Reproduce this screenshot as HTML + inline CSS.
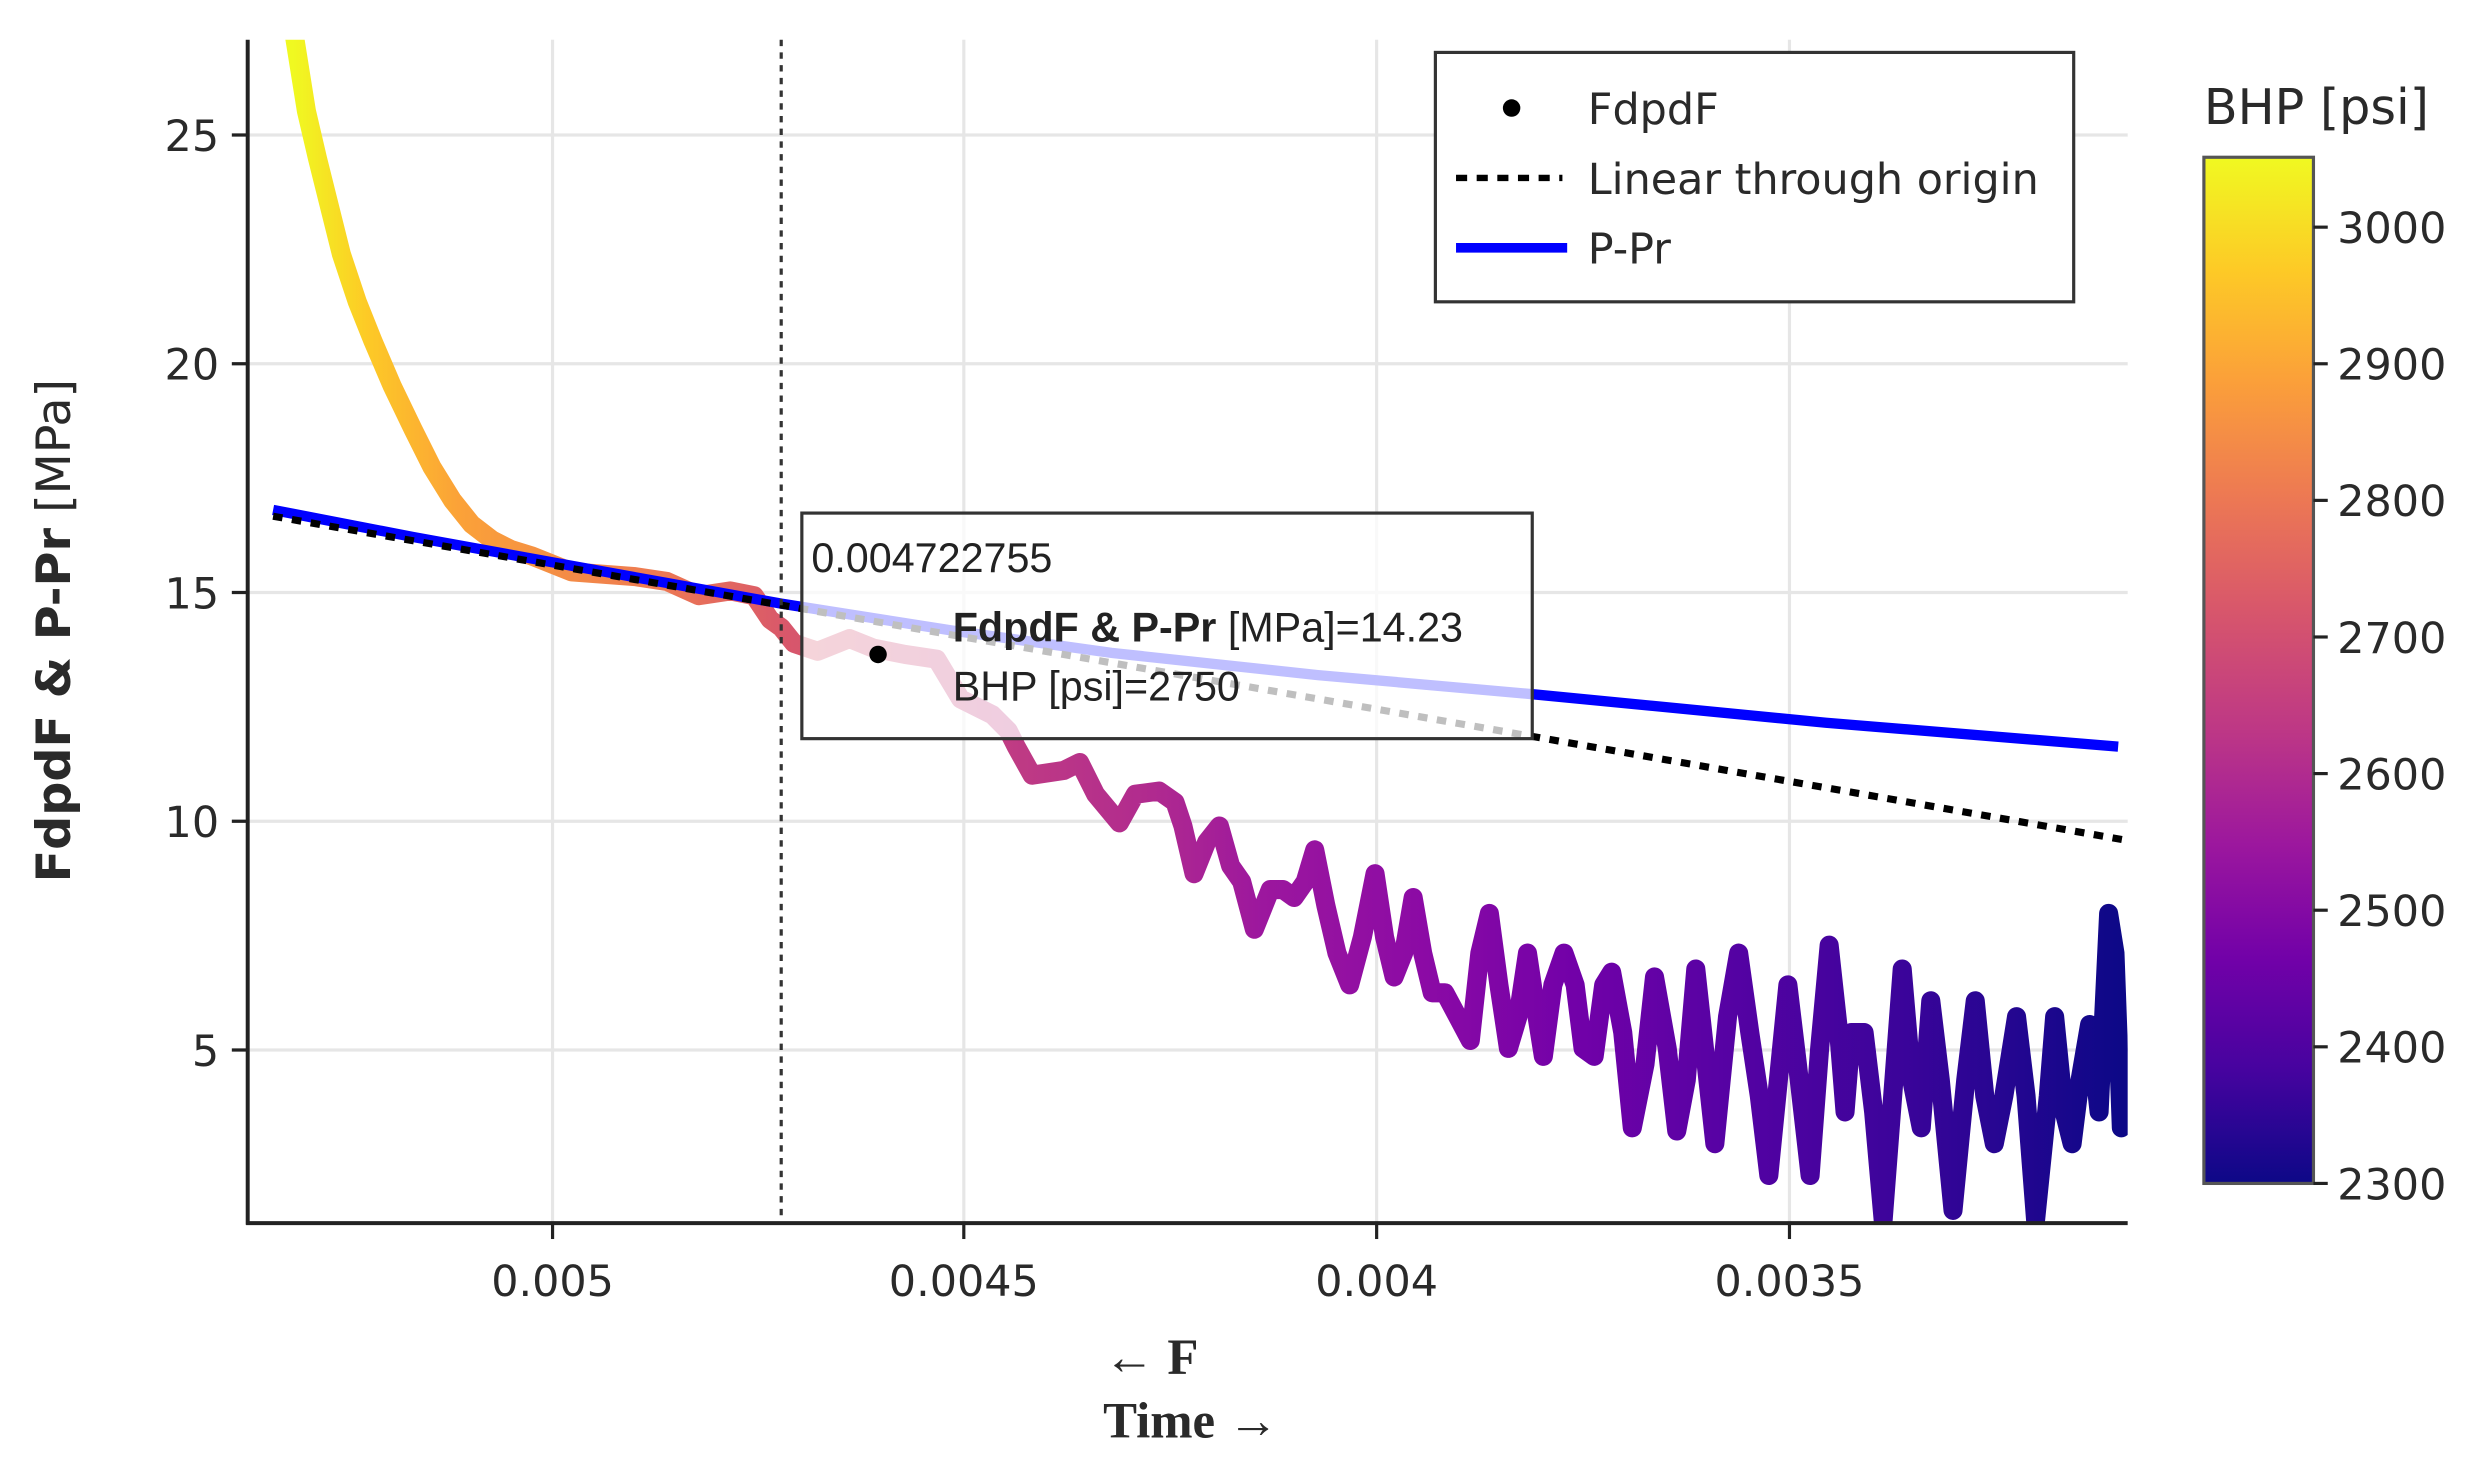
<!DOCTYPE html>
<html><head><meta charset="utf-8"><style>html,body{margin:0;padding:0;background:#fff}svg{display:block}</style></head>
<body>
<svg width="2477" height="1463" viewBox="0 0 1560 921" preserveAspectRatio="none" xmlns="http://www.w3.org/2000/svg">
<defs>
<linearGradient id="cg" gradientUnits="userSpaceOnUse" x1="185" y1="0" x2="1336" y2="0">
<stop offset="0" stop-color="#f0f921"/>
<stop offset="0.04" stop-color="#fdca26"/>
<stop offset="0.09" stop-color="#fba238"/>
<stop offset="0.2" stop-color="#ed7953"/>
<stop offset="0.27" stop-color="#d8576b"/>
<stop offset="0.39" stop-color="#c03c83"/>
<stop offset="0.47" stop-color="#b02a8f"/>
<stop offset="0.53" stop-color="#9c179e"/>
<stop offset="0.62" stop-color="#8b0aa5"/>
<stop offset="0.7" stop-color="#7201a8"/>
<stop offset="0.79" stop-color="#5402a3"/>
<stop offset="0.88" stop-color="#3b049a"/>
<stop offset="1" stop-color="#0d0887"/>
</linearGradient>
<linearGradient id="cb" x1="0" y1="1" x2="0" y2="0">
<stop offset="0" stop-color="#0d0887"/>
<stop offset="0.11" stop-color="#46039f"/>
<stop offset="0.22" stop-color="#7201a8"/>
<stop offset="0.33" stop-color="#9c179e"/>
<stop offset="0.44" stop-color="#bd3786"/>
<stop offset="0.56" stop-color="#d8576b"/>
<stop offset="0.67" stop-color="#ed7953"/>
<stop offset="0.78" stop-color="#fb9f3a"/>
<stop offset="0.89" stop-color="#fdca26"/>
<stop offset="1" stop-color="#f0f921"/>
</linearGradient>
<clipPath id="pc"><rect x="156" y="25" width="1184" height="745"/></clipPath>
</defs>
<g stroke="#e6e6e6" stroke-width="2">
<line x1="156" y1="85" x2="1340" y2="85"/><line x1="156" y1="229" x2="1340" y2="229"/>
<line x1="156" y1="373" x2="1340" y2="373"/><line x1="156" y1="517" x2="1340" y2="517"/>
<line x1="156" y1="661" x2="1340" y2="661"/>
<line x1="348" y1="25" x2="348" y2="770"/><line x1="607" y1="25" x2="607" y2="770"/>
<line x1="867" y1="25" x2="867" y2="770"/><line x1="1127" y1="25" x2="1127" y2="770"/>
</g>
<g clip-path="url(#pc)">
<polyline fill="none" stroke="url(#cg)" stroke-width="12" stroke-linejoin="round" stroke-linecap="round" points="185,20 193,70 200,100 208,132 215,160 225,190 235,215 247,243 260,270 272,294 285,315 297,330 310,340 322,346 335,350 360,360 400,363 420,366 440,375 460,372 475,375 485,390 492,395 500,405 515,410 535,402 550,408 570,412 590,415 605,440 625,450 635,460 640,470 650,488 670,485 680,480 690,500 705,518 715,500 730,498 740,505 745,520 752,550 760,530 768,520 775,545 782,555 790,585 800,560 808,560 815,565 822,555 828,535 835,570 842,600 850,620 858,590 866,550 872,590 878,615 884,600 890,565 896,600 902,625 910,625 918,640 926,655 932,600 938,575 944,620 950,660 956,640 962,600 968,640 972,665 978,620 985,600 992,620 997,660 1004,665 1010,620 1015,612 1022,650 1028,710 1036,670 1042,615 1050,660 1056,712 1062,680 1068,610 1074,665 1080,720 1088,640 1095,600 1102,650 1108,690 1114,740 1120,680 1126,620 1132,670 1140,740 1146,660 1152,595 1158,650 1162,700 1166,650 1174,650 1180,700 1186,768 1192,690 1198,610 1204,680 1210,710 1216,630 1222,680 1230,762 1238,680 1244,630 1250,690 1256,720 1262,690 1270,640 1276,690 1282,768 1290,690 1294,640 1300,700 1305,720 1310,680 1316,645 1322,700 1328,575 1332,600 1336,710"/>
<polyline fill="none" stroke="#0000ff" stroke-width="6.5" points="172,321 260,338 348,354 420,367 492,380 600,397 700,411 830,425 965,437 1150,455 1334,470"/>
<line x1="172" y1="325" x2="1345" y2="530" stroke="#000" stroke-width="4.5" stroke-dasharray="6,6"/>
</g>
<line x1="492" y1="25" x2="492" y2="770" stroke="#333" stroke-width="2" stroke-dasharray="4,4"/>
<line x1="156" y1="25" x2="156" y2="771" stroke="#222" stroke-width="2.5"/>
<line x1="155" y1="770" x2="1340" y2="770" stroke="#222" stroke-width="2.5"/>
<g stroke="#222" stroke-width="2">
<line x1="146" y1="85" x2="156" y2="85"/><line x1="146" y1="229" x2="156" y2="229"/><line x1="146" y1="373" x2="156" y2="373"/><line x1="146" y1="517" x2="156" y2="517"/><line x1="146" y1="661" x2="156" y2="661"/>
<line x1="348" y1="770" x2="348" y2="780"/><line x1="607" y1="770" x2="607" y2="780"/><line x1="867" y1="770" x2="867" y2="780"/><line x1="1127" y1="770" x2="1127" y2="780"/>
</g>
<g font-family="DejaVu Sans, Liberation Sans, sans-serif" font-size="27" fill="#2a2a2a">
<g text-anchor="end"><text x="138" y="95">25</text><text x="138" y="239">20</text><text x="138" y="383">15</text><text x="138" y="527">10</text><text x="138" y="671">5</text></g>
<g text-anchor="middle"><text x="348" y="816">0.005</text><text x="607" y="816">0.0045</text><text x="867" y="816">0.004</text><text x="1127" y="816">0.0035</text></g>
</g>
<text transform="translate(44,397) rotate(-90)" text-anchor="middle" font-family="DejaVu Sans, sans-serif" font-size="30" fill="#2a2a2a"><tspan font-weight="bold">FdpdF &amp; P-Pr</tspan><tspan>  [MPa]</tspan></text>
<g font-family="Liberation Serif, serif" font-weight="bold" font-size="32" fill="#2a2a2a" text-anchor="middle">
<text x="725" y="865">← F</text><text x="750" y="905">Time →</text>
</g>
<rect x="505" y="323" width="460" height="142" fill="#fff" fill-opacity="0.75" stroke="#333" stroke-width="2"/>
<circle cx="553" cy="412" r="5.5" fill="#000"/>
<g font-family="Liberation Sans, Arial, sans-serif" font-size="26" fill="#222">
<text x="511" y="360">0.004722755</text>
<text x="600" y="404"><tspan font-weight="bold">FdpdF &amp; P-Pr</tspan>  [MPa]=14.23</text>
<text x="600" y="441">BHP [psi]=2750</text>
</g>
<rect x="904" y="33" width="402" height="157" fill="#fff" stroke="#333" stroke-width="2"/>
<circle cx="952" cy="68" r="5.5" fill="#000"/>
<line x1="917" y1="112" x2="984" y2="112" stroke="#000" stroke-width="4" stroke-dasharray="7,6"/>
<line x1="917" y1="156" x2="987" y2="156" stroke="#0000ff" stroke-width="6"/>
<g font-family="DejaVu Sans, sans-serif" font-size="27" fill="#2a2a2a">
<text x="1000" y="78">FdpdF</text><text x="1000" y="122">Linear through origin</text><text x="1000" y="166">P-Pr</text>
</g>
<text x="1388" y="78" font-family="DejaVu Sans, sans-serif" font-size="31" fill="#2a2a2a">BHP [psi]</text>
<rect x="1388" y="99" width="69" height="646" fill="url(#cb)" stroke="#555" stroke-width="2"/>
<g stroke="#222" stroke-width="2">
<line x1="1457" y1="143" x2="1466" y2="143"/><line x1="1457" y1="229" x2="1466" y2="229"/><line x1="1457" y1="315" x2="1466" y2="315"/><line x1="1457" y1="401" x2="1466" y2="401"/><line x1="1457" y1="487" x2="1466" y2="487"/><line x1="1457" y1="573" x2="1466" y2="573"/><line x1="1457" y1="659" x2="1466" y2="659"/><line x1="1457" y1="745" x2="1466" y2="745"/>
</g>
<g font-family="DejaVu Sans, sans-serif" font-size="27" fill="#2a2a2a">
<text x="1472" y="153">3000</text><text x="1472" y="239">2900</text><text x="1472" y="325">2800</text><text x="1472" y="411">2700</text><text x="1472" y="497">2600</text><text x="1472" y="583">2500</text><text x="1472" y="669">2400</text><text x="1472" y="755">2300</text>
</g>
</svg>
</body></html>
